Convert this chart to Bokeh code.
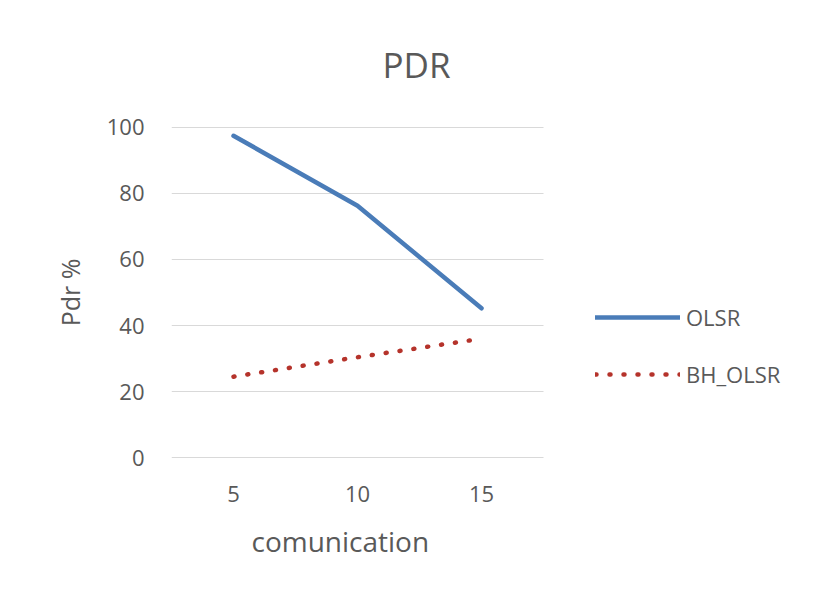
from bokeh.plotting import figure
from bokeh.models import Range1d, Legend, LegendItem, Title
from bokeh.embed import file_html
from bokeh.resources import INLINE

categories = [5, 10, 15]
olsr = [97.5, 76.3, 45.2]
bh_olsr = [24.5, 30.4, 36.0]
y_ticks = [0, 20, 40, 60, 80, 100]

FONT = "Open Sans"
GREY = "#595959"

# category band: each category occupies 5 units centred on its value
band = 5
x_lo = categories[0] - band / 2
x_hi = categories[-1] + band / 2
frame_left, frame_right_border = 171, 7
W, H = 807, 586
frame_w = W - frame_left - frame_right_border
px_per_unit = 372 / (x_hi - x_lo)
x_end = x_lo + frame_w / px_per_unit

p = figure(width=W, height=H, x_range=Range1d(x_lo, x_end),
           y_range=Range1d(-0.3, 100.3), output_backend="svg", toolbar_location=None,
           min_border_left=frame_left, min_border_right=frame_right_border,
           min_border_top=126, min_border_bottom=128)
p.outline_line_color = None
p.background_fill_color = "white"
p.border_fill_color = "white"

p.title.text = "PDR"
p.title.text_font = FONT
p.title.text_font_size = "35px"
p.title.text_font_style = "normal"
p.title.text_color = GREY
p.title.align = "left"
p.title.offset = 211
p.title.standoff = 77

p.xgrid.grid_line_color = None
p.ygrid.grid_line_color = None
p.yaxis.ticker = y_ticks
p.xaxis.ticker = categories

# horizontal gridlines restricted to the category area
p.segment(x0=x_lo, x1=x_hi, y0=y_ticks, y1=y_ticks, line_color="#d9d9d9", line_width=1)

for ax in (p.xaxis[0], p.yaxis[0]):
    ax.axis_line_color = None
    ax.major_tick_line_color = None
    ax.minor_tick_line_color = None
    ax.major_label_text_font = FONT
    ax.major_label_text_font_size = "22px"
    ax.major_label_text_color = GREY
    ax.axis_label_text_font = FONT
    ax.axis_label_text_font_size = "25px"
    ax.axis_label_text_font_style = "normal"
    ax.axis_label_text_color = GREY

p.yaxis.axis_label = "Pdr %"
p.yaxis.major_label_standoff = 21
p.yaxis.axis_label_standoff = 17
p.xaxis.major_label_standoff = 21

xlabel = Title(text="comunication", text_font=FONT, text_font_size="28px",
               text_font_style="normal", text_color=GREY, align="left",
               offset=80, standoff=31)
p.add_layout(xlabel, "below")

r1 = p.line(categories, olsr, line_color="#4a7cb8", line_width=4.5, line_cap="round", line_join="round")
r2 = p.line(categories, bh_olsr, line_color="#b5332b", line_width=4.5, line_cap="round", line_dash="1 13")

legend = Legend(items=[LegendItem(label="OLSR", renderers=[r1]),
                       LegendItem(label="BH_OLSR", renderers=[r2])],
                location=(424, 69), orientation="vertical")
legend.glyph_width = 85
legend.glyph_height = 24
legend.label_height = 24
legend.spacing = 27
legend.padding = 0
legend.margin = 0
legend.label_standoff = 6
legend.border_line_color = None
legend.background_fill_alpha = 0
legend.label_text_font = FONT
legend.label_text_font_size = "22px"
legend.label_text_color = GREY
p.add_layout(legend, "center")

open("out.html", "w").write(file_html(p, INLINE))
